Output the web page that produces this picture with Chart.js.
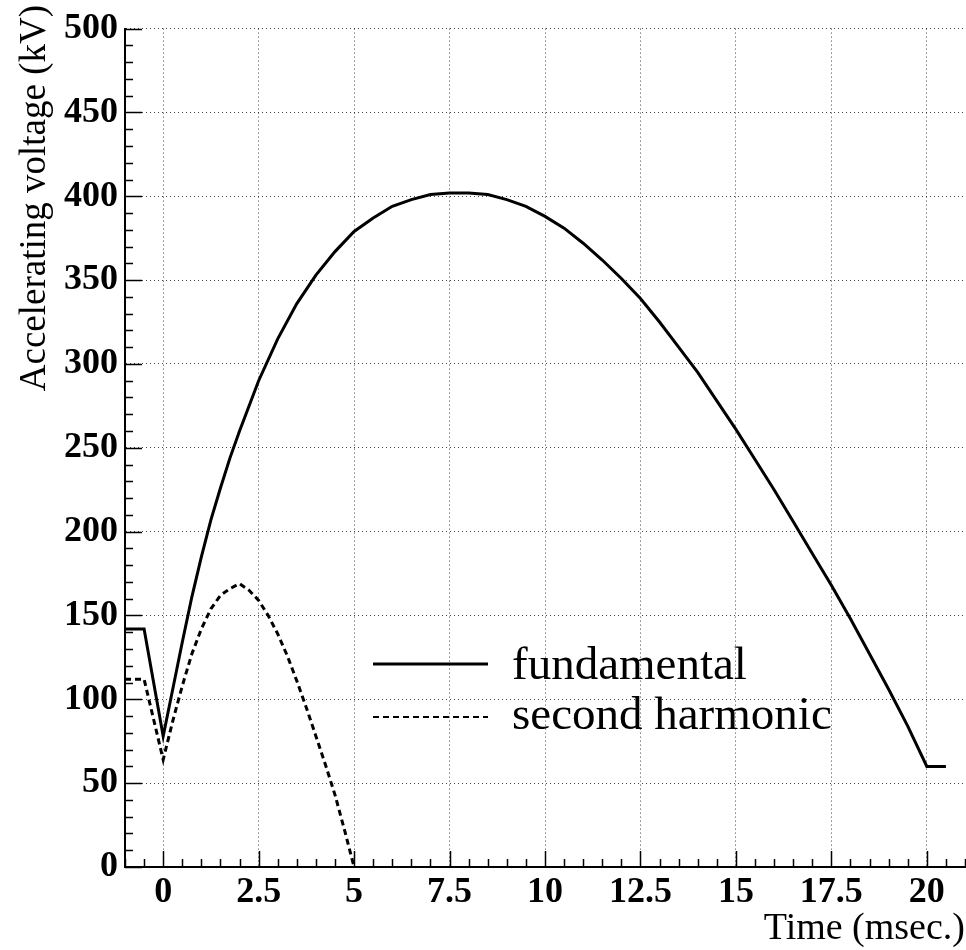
<!DOCTYPE html>
<html>
<head>
<meta charset="utf-8">
<script src="https://cdn.jsdelivr.net/npm/chart.js@4.4.1/dist/chart.umd.min.js"></script>
<style>
  body { margin: 0; background: #fff; }
  canvas { display: block; }
</style>
</head>
<body>
<canvas id="chart" width="966" height="950"></canvas>
<script>
// accelerating voltage vs time
const fundTime = [-1, -0.5, 0, 0.25, 0.5, 0.75, 1, 1.25, 1.5, 1.75, 2, 2.5, 3, 3.5, 4, 4.5, 5, 5.5, 6, 6.5, 7, 7.5, 8, 8.5, 9, 9.5, 10, 10.5, 11, 11.5, 12, 12.5, 13, 13.5, 14, 14.5, 15, 15.5, 16, 16.5, 17, 17.5, 18, 18.5, 19, 19.5, 20, 20.5];
const fundVolt = [142, 142, 78, 106, 134, 161, 185, 207, 226, 244, 260, 290, 315, 336, 353, 367, 379, 387, 394, 398, 401, 402, 402, 401, 398, 394, 388, 381, 372, 362, 351, 339, 325, 310, 295, 278, 261, 243, 225, 206, 187, 168, 148, 127, 106, 84, 60, 60];

const harmTime = [-1, -0.5, 0, 0.25, 0.5, 0.75, 1, 1.25, 1.5, 1.75, 2, 2.25, 2.5, 2.75, 3, 3.25, 3.5, 3.75, 4, 4.25, 4.5, 4.75, 5];
const harmVolt = [112, 112, 64, 87, 108, 127, 142, 154, 162, 166, 169, 165, 159, 150, 139, 126, 111, 95, 78, 61, 43, 22, 0];

const seriesNames = ['fundamental', 'second harmonic'];

const xTickValues = [0, 2.5, 5, 7.5, 10, 12.5, 15, 17.5, 20];
const xTickLabels = ['0', '2.5', '5', '7.5', '10', '12.5', '15', '17.5', '20'];
const yTickValues = [0, 50, 100, 150, 200, 250, 300, 350, 400, 450, 500];
const yTickLabels = ['0', '50', '100', '150', '200', '250', '300', '350', '400', '450', '500'];

const serif = "'Liberation Serif', 'Times New Roman', serif";

function toPoints(xs, ys) {
  return xs.map((x, i) => ({ x: x, y: ys[i] }));
}

// ROOT style ticks, drawn inside the frame
const innerTicks = {
  id: 'innerTicks',
  afterDatasetsDraw(chart) {
    const { ctx, chartArea, scales } = chart;
    ctx.save();
    ctx.strokeStyle = '#000';
    ctx.lineWidth = 1.5;
    ctx.beginPath();
    for (let i = -2; i <= 42; i++) {
      const px = Math.round(scales.x.getPixelForValue(i * 0.5)) + 0.5;
      const len = i % 5 === 0 ? 16 : 8;
      ctx.moveTo(px, chartArea.bottom);
      ctx.lineTo(px, chartArea.bottom - len);
    }
    for (let i = 0; i <= 50; i++) {
      const py = Math.round(scales.y.getPixelForValue(i * 10)) + 0.5;
      const len = i % 5 === 0 ? 17 : 8;
      ctx.moveTo(chartArea.left, py);
      ctx.lineTo(chartArea.left + len, py);
    }
    ctx.stroke();
    ctx.restore();
  }
};

// y title (right aligned at the top) and the legend inside the frame
const extras = {
  id: 'extras',
  afterDraw(chart) {
    const ctx = chart.ctx;
    ctx.save();
    ctx.fillStyle = '#000';
    ctx.font = '37px ' + serif;
    ctx.translate(45, 5);
    ctx.rotate(-Math.PI / 2);
    ctx.textAlign = 'right';
    ctx.textBaseline = 'alphabetic';
    ctx.fillText('Accelerating voltage (kV)', 0, 0);
    ctx.restore();

    const rows = [{ lineY: 664, textY: 679 }, { lineY: 717, textY: 729 }];
    ctx.save();
    ctx.font = '47px ' + serif;
    ctx.fillStyle = '#000';
    ctx.textBaseline = 'alphabetic';
    chart.data.datasets.forEach((ds, i) => {
      ctx.strokeStyle = ds.borderColor;
      ctx.lineWidth = i === 0 ? 3 : 2;
      ctx.setLineDash(ds.borderDash || []);
      ctx.beginPath();
      ctx.moveTo(373, rows[i].lineY);
      ctx.lineTo(488, rows[i].lineY);
      ctx.stroke();
      ctx.fillText(ds.label, 512, rows[i].textY);
    });
    ctx.restore();
  }
};

new Chart(document.getElementById('chart'), {
  type: 'line',
  data: {
    datasets: [{
      label: seriesNames[0],
      data: toPoints(fundTime, fundVolt),
      borderColor: '#000',
      borderWidth: 3,
      pointRadius: 0,
      tension: 0
    }, {
      label: seriesNames[1],
      data: toPoints(harmTime, harmVolt),
      borderColor: '#000',
      borderWidth: 3,
      borderDash: [6, 4],
      pointRadius: 0,
      tension: 0
    }]
  },
  options: {
    responsive: false,
    animation: false,
    layout: { padding: { top: 27, right: 1, left: 0, bottom: 0 } },
    plugins: {
      legend: { display: false },
      tooltip: { enabled: false }
    },
    scales: {
      x: {
        type: 'linear',
        min: -1,
        max: 21,
        afterBuildTicks: (scale) => { scale.ticks = xTickValues.map(v => ({ value: v })); },
        afterFit: (scale) => { scale.height = 83; },
        ticks: {
          autoSkip: false,
          maxRotation: 0,
          padding: 4,
          color: '#000',
          font: { family: serif, size: 36, weight: 'bold' },
          callback: (v) => xTickLabels[xTickValues.indexOf(v)]
        },
        grid: { color: 'rgba(0,0,0,0.75)', lineWidth: 1, drawTicks: false },
        border: { display: true, color: '#000', width: 2, dash: [1, 3] },
        title: {
          display: true,
          text: 'Time (msec.)',
          align: 'end',
          color: '#000',
          padding: 0,
          font: { family: serif, size: 38, lineHeight: 1.1 }
        }
      },
      y: {
        type: 'linear',
        min: 0,
        max: 500,
        afterBuildTicks: (scale) => { scale.ticks = yTickValues.map(v => ({ value: v })); },
        afterFit: (scale) => { scale.width = 125; },
        ticks: {
          padding: 7,
          color: '#000',
          font: { family: serif, size: 36, weight: 'bold' },
          callback: (v) => yTickLabels[yTickValues.indexOf(v)]
        },
        grid: { color: 'rgba(0,0,0,0.75)', lineWidth: 1, drawTicks: false },
        border: { display: true, color: '#000', width: 2, dash: [1, 3] }
      }
    }
  },
  plugins: [innerTicks, extras]
});
</script>
</body>
</html>
